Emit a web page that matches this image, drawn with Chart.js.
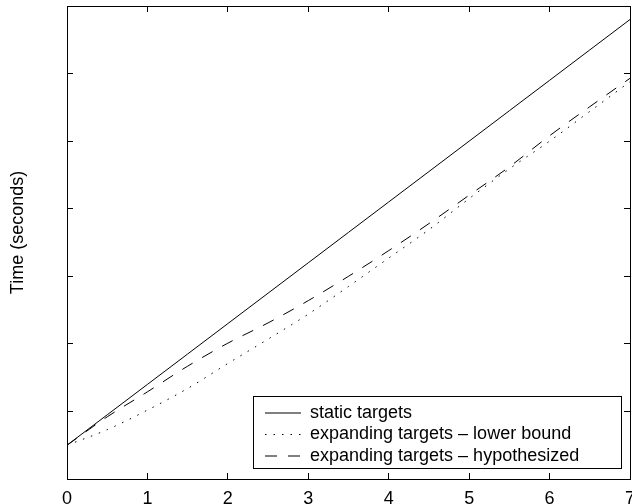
<!DOCTYPE html>
<html>
<head>
<meta charset="utf-8">
<script src="https://cdn.jsdelivr.net/npm/chart.js@4.4.1/dist/chart.umd.min.js"></script>
<style>
  html, body { margin: 0; padding: 0; background: #fff; overflow: hidden; }
  #wrap { width: 632px; height: 504px; }
</style>
</head>
<body>
<div id="wrap"><canvas id="c" width="632" height="504"></canvas></div>
<script>
// ---- data ----
const xValues = [0, 0.5, 1, 1.5, 2, 2.5, 3, 3.5, 4, 4.5, 5, 5.5, 6, 6.5, 7];
const staticTargets = [0.5, 0.95, 1.4, 1.85, 2.3, 2.75, 3.2, 3.65, 4.1, 4.55, 5.0, 5.45, 5.9, 6.35, 6.8];
const lowerBound = [0.5, 0.73, 1.02, 1.34, 1.71, 2.07, 2.44, 2.85, 3.27, 3.69, 4.15, 4.59, 5.0, 5.44, 5.88];
const hypothesized = [0.5, 0.92, 1.29, 1.67, 2.01, 2.31, 2.64, 3.0, 3.38, 3.78, 4.2, 4.62, 5.08, 5.51, 5.93];
const seriesNames = ['static targets', 'expanding targets \u2013 lower bound', 'expanding targets \u2013 hypothesized'];
const xTickValues = [0, 1, 2, 3, 4, 5, 6, 7];
const yTickValues = [0, 1, 2, 3, 4, 5, 6, 7];
const yTitle = 'Time (seconds)';

const toPoints = (ys) => xValues.map((x, i) => ({ x: x, y: ys[i] }));

Chart.defaults.font.family = "'Liberation Sans', Arial, sans-serif";
Chart.defaults.color = '#000';

const FONT = 18;

const legendPlacer = {
  id: 'legendPlacer',
  afterLayout(chart) {
    const lg = chart.legend;
    if (lg) {
      lg.left = 261.5;
      lg.top = 400.5;
      lg.right = 625;
      lg.bottom = 478;
      lg.width = lg.right - lg.left;
      lg.height = lg.bottom - lg.top;
    }
    // draw the y-axis title centred a little above the plot centre, as in the reference
    const ys = chart.scales.y;
    if (ys && !ys._titlePatched) {
      const orig = ys.drawTitle.bind(ys);
      ys.drawTitle = function () {
        const b = this.bottom;
        this.bottom = b - 20;
        orig();
        this.bottom = b;
      };
      ys._titlePatched = true;
    }
  },
  afterDraw(chart) {
    const ctx = chart.ctx;
    ctx.save();
    ctx.strokeStyle = '#000';
    ctx.lineWidth = 1;
    ctx.setLineDash([]);
    ctx.strokeRect(253.5, 396.5, 368, 72);
    ctx.restore();
  }
};

const tickGrid = {
  display: true,
  drawOnChartArea: false,
  drawTicks: true,
  tickLength: -6,
  color: '#000',
  tickColor: '#000',
  tickWidth: 1
};
const border = { display: true, color: '#000', width: 1 };

new Chart(document.getElementById('c'), {
  type: 'line',
  data: {
    datasets: [
      {
        label: seriesNames[0],
        data: toPoints(staticTargets),
        borderColor: '#000',
        borderWidth: 1,
        borderDash: [],
        pointRadius: 0,
        fill: false,
        xAxisID: 'x', yAxisID: 'y'
      },
      {
        label: seriesNames[1],
        data: toPoints(lowerBound),
        borderColor: '#000',
        borderWidth: 1,
        borderDash: [1.5, 7],
        pointRadius: 0,
        fill: false,
        cubicInterpolationMode: 'monotone',
        xAxisID: 'x', yAxisID: 'y'
      },
      {
        label: seriesNames[2],
        data: toPoints(hypothesized),
        borderColor: '#000',
        borderWidth: 1,
        borderDash: [12, 11],
        pointRadius: 0,
        fill: false,
        cubicInterpolationMode: 'monotone',
        xAxisID: 'x', yAxisID: 'y'
      }
    ]
  },
  options: {
    responsive: false,
    animation: false,
    devicePixelRatio: 1,
    layout: { padding: 0, autoPadding: false },
    plugins: {
      tooltip: { enabled: false },
      legend: {
        display: true,
        position: 'chartArea',
        align: 'start',
        labels: {
          usePointStyle: true,
          pointStyle: 'line',
          pointStyleWidth: 36,
          padding: 3.5,
          color: '#000',
          font: { size: FONT },
          generateLabels(chart) {
            const items = Chart.defaults.plugins.legend.labels.generateLabels(chart);
            items.forEach((it) => {
              const ds = chart.data.datasets[it.datasetIndex];
              it.lineDash = ds.borderDash || [];
              it.lineWidth = ds.borderWidth;
              it.strokeStyle = ds.borderColor;
              it.fillStyle = ds.borderColor;
              it.pointStyle = 'line';
            });
            return items;
          }
        }
      }
    },
    scales: {
      x: {
        type: 'linear',
        position: 'bottom',
        min: 0, max: 7,
        afterBuildTicks: (s) => { s.ticks = xTickValues.map(v => ({ value: v })); },
        ticks: { padding: 15, font: { size: FONT }, color: '#000', maxRotation: 0, autoSkip: false },
        grid: tickGrid,
        border: border,
        afterFit: (s) => { s.height = 25; s.paddingLeft = 0; s.paddingRight = 0; }
      },
      x2: {
        type: 'linear',
        axis: 'x',
        position: 'top',
        min: 0, max: 7,
        afterBuildTicks: (s) => { s.ticks = xTickValues.map(v => ({ value: v })); },
        ticks: { display: false },
        grid: tickGrid,
        border: border,
        afterFit: (s) => { s.height = 6; s.paddingLeft = 0; s.paddingRight = 0; }
      },
      y: {
        type: 'linear',
        position: 'left',
        min: 0, max: 7,
        afterBuildTicks: (s) => { s.ticks = yTickValues.map(v => ({ value: v })); },
        ticks: { display: false },
        grid: tickGrid,
        border: border,
        title: {
          display: true,
          text: yTitle,
          color: '#000',
          font: { size: FONT },
          padding: { top: 7, bottom: 0 }
        },
        afterFit: (s) => { s.width = 67; }
      },
      y2: {
        type: 'linear',
        axis: 'y',
        position: 'right',
        min: 0, max: 7,
        afterBuildTicks: (s) => { s.ticks = yTickValues.map(v => ({ value: v })); },
        ticks: { display: false },
        grid: tickGrid,
        border: border,
        afterFit: (s) => { s.width = 2; }
      }
    }
  },
  plugins: [legendPlacer]
});
</script>
</body>
</html>
